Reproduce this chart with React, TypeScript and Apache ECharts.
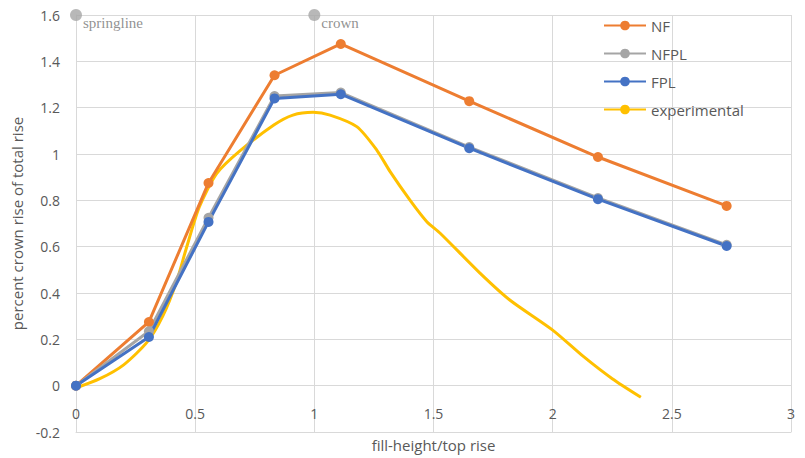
import React, { useEffect, useRef } from "react";
import * as echarts from "echarts";

const nfX = [0, 0.306, 0.556, 0.833, 1.111, 1.65, 2.19, 2.73];
const nfY = [0, 0.275, 0.875, 1.34, 1.475, 1.228, 0.987, 0.776];
const nfplY = [0, 0.235, 0.725, 1.25, 1.265, 1.03, 0.81, 0.608];
const fplY = [0, 0.21, 0.707, 1.24, 1.258, 1.025, 0.805, 0.603];
const expX = [0, 0.1, 0.2, 0.3, 0.364, 0.42, 0.462, 0.517, 0.59, 0.684, 0.83, 0.91, 0.995, 1.066, 1.178, 1.262, 1.318, 1.402, 1.472, 1.528, 1.695, 1.82, 2.0, 2.13, 2.25, 2.37];
const expY = [-0.01, 0.03, 0.09, 0.19, 0.3, 0.443, 0.59, 0.77, 0.915, 1.01, 1.125, 1.168, 1.18, 1.168, 1.118, 1.017, 0.924, 0.8, 0.708, 0.658, 0.486, 0.37, 0.24, 0.125, 0.03, -0.05];
const annX = [0, 1];
const annY = [1.6, 1.6];
const annLabels = ["springline", "crown"];

const pairs = (xs: number[], ys: number[]) => xs.map((x, i) => [x, ys[i]]);

export default function App() {
  const ref = useRef<HTMLDivElement>(null);
  useEffect(() => {
    const chart = echarts.init(ref.current!, null, { renderer: "svg" });
    const axisText = { color: "#595959", fontSize: 14, fontFamily: "Open Sans" };
    const lineSeries = (name: string, ys: number[], color: string) => ({
      name,
      type: "line",
      data: pairs(nfX, ys),
      symbol: "circle",
      symbolSize: 10,
      lineStyle: { color, width: 3 },
      itemStyle: { color },
      z: 3,
    });
    chart.setOption({
      animation: false,
      grid: { left: 76, right: 14, top: 15, bottom: 26, containLabel: false, outerBoundsMode: "none" },
      legend: {
        orient: "vertical",
        left: 598,
        top: 13,
        itemWidth: 42,
        itemHeight: 12,
        itemGap: 13,
        textStyle: { color: "#595959", fontSize: 15, fontFamily: "Open Sans" },
        data: ["NF", "NFPL", "FPL", "experimental"],
      },
      xAxis: {
        type: "value",
        min: 0,
        max: 3,
        interval: 0.5,
        name: "fill-height/top rise",
        nameLocation: "middle",
        nameGap: 2,
        nameTextStyle: { color: "#595959", fontSize: 15, fontFamily: "Open Sans", verticalAlign: "top" },
        axisLine: { onZero: false, lineStyle: { color: "#d9d9d9", width: 1 } },
        axisTick: { show: false },
        axisLabel: { ...axisText, inside: true, margin: 12, formatter: (v: number) => String(+v.toFixed(1)) },
        splitLine: { show: true, lineStyle: { color: "#d9d9d9", width: 1 } },
      },
      yAxis: {
        type: "value",
        min: -0.2,
        max: 1.6,
        interval: 0.2,
        name: "percent crown rise of total rise",
        nameLocation: "middle",
        nameGap: 50,
        nameTextStyle: { color: "#595959", fontSize: 15, fontFamily: "Open Sans" },
        axisLine: { show: true, onZero: false, lineStyle: { color: "#d9d9d9", width: 1 } },
        axisTick: { show: false },
        axisLabel: { ...axisText, margin: 16, formatter: (v: number) => String(+v.toFixed(1)) },
        splitLine: { show: true, lineStyle: { color: "#d9d9d9", width: 1 } },
      },
      series: [
        lineSeries("NF", nfY, "#ED7D31"),
        lineSeries("NFPL", nfplY, "#A5A5A5"),
        lineSeries("FPL", fplY, "#4472C4"),
        {
          name: "experimental",
          type: "line",
          data: pairs(expX, expY),
          smooth: 0.25,
          symbol: "none",
          lineStyle: { color: "#FFC000", width: 3 },
          itemStyle: { color: "#FFC000" },
          z: 2,
        },
        {
          name: "annotations",
          type: "scatter",
          data: pairs(annX, annY),
          symbol: "circle",
          symbolSize: 12,
          clip: false,
          itemStyle: { color: "#a6a6a6" },
          label: {
            show: true,
            position: "right",
            offset: [-4, 8],
            color: "#757575",
            fontSize: 15,
            fontFamily: "Liberation Serif",
            formatter: (p: any) => annLabels[p.dataIndex],
          },
          z: 4,
        },
      ],
    });
    return () => chart.dispose();
  }, []);
  return <div ref={ref} style={{ position: "absolute", left: 0, top: 0, width: 805, height: 458 }} />;
}
